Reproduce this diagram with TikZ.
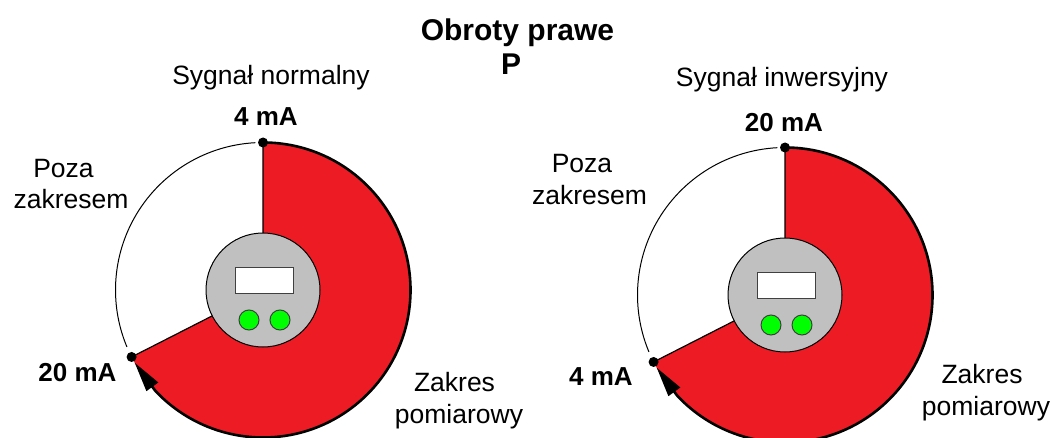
\documentclass[tikz,border=0pt]{standalone}
\usepackage{fontspec}
\setmainfont{Liberation Sans}
\usetikzlibrary{arrows.meta}
\definecolor{zakres}{RGB}{237,28,36}
\definecolor{obudowa}{RGB}{192,192,192}
\definecolor{dioda}{RGB}{0,255,0}
\tikzset{
  label/.style={align=center,inner sep=0pt,font=\fontsize{26.5}{31.5}\selectfont},
  prad/.style={inner sep=0pt,font=\fontsize{26}{30}\selectfont\bfseries},
  title/.style={align=center,inner sep=0pt,font=\fontsize{30}{34}\selectfont\bfseries},
  point/.style={circle,fill=black,inner sep=0pt,minimum size=10pt},
  led/.style={circle,draw=black!75,line width=1pt,fill=dioda,inner sep=0pt,minimum size=20pt},
  display/.style={rectangle,draw=black!75,line width=1pt,fill=white,inner sep=0pt,minimum width=58pt,minimum height=26pt},
  line/.style={-{Triangle[length=30pt,width=14pt]},line width=2.6pt}
}
% one gauge: #1 = name, centre at (#1)
\newcommand{\gauge}[1]{
  \fill[zakres] (#1) -- ++(90:147.5) arc (90:-153:147.5) -- cycle;
  \draw[line width=1pt] (#1) ++(93:147.5) arc (93:202.7:147.5);
  \draw[line width=1.2pt] (#1) ++(90:147.5) -- (#1) -- ++(207:147.5);
  \draw[line width=2.6pt] (#1) ++(90:147.5) arc (90:-137:147.5);
  \coordinate (#1base) at ([shift={(223:147.5)}]#1);
  \coordinate (#1tip) at ([shift={(209.5:147.5)}]#1);
  \draw[line] (#1base) -- (#1tip);
  \draw[line width=1pt,fill=obudowa] (#1) circle (57);
  \node[display] (#1d) at ([shift={(1,10)}]#1) {};
  \node[led] (#1l) at ([shift={(-14,-30)}]#1) {};
  \node[led] (#1r) at ([shift={(17,-30)}]#1) {};
  \node[point] (#1top) at ([shift={(90:147.5)}]#1) {};
  \node[point] (#1end) at ([shift={(207:147.5)}]#1) {};
}

\begin{document}
\begin{tikzpicture}[x=1pt,y=1pt]
\useasboundingbox (0,0) rectangle (1054,437);
\fill[white] (0,0) rectangle (1054,437);
\coordinate (norm) at (263,147);
\coordinate (inw) at (785,142);
\gauge{norm}
\gauge{inw}
\node[title] (tyt) at (517.5,404) {Obroty prawe};
\node[title] (p) at (511,373) {P};
\node[label] (syg1) at (271,359.5) {Sygnał normalny};
\node[label] (syg2) at (782,357) {Sygnał inwersyjny};
\node[prad] (a1) at (266,320) {4 mA};
\node[prad] (a2) at (77.5,64) {20 mA};
\node[prad] (b1) at (784,314) {20 mA};
\node[prad] (b2) at (601,60) {4 mA};
\node[label] (poza1) at (71,253) {Poza\kern15pt\\zakresem};
\node[label] (poza2) at (589.5,257.5) {Poza\kern15pt\\zakresem};
\node[label] (zakr1) at (459,36.5) {Zakres\kern9pt\\pomiarowy};
\node[label] (zakr2) at (986,44.5) {Zakres\kern8pt\\pomiarowy};
\end{tikzpicture}
\end{document}
